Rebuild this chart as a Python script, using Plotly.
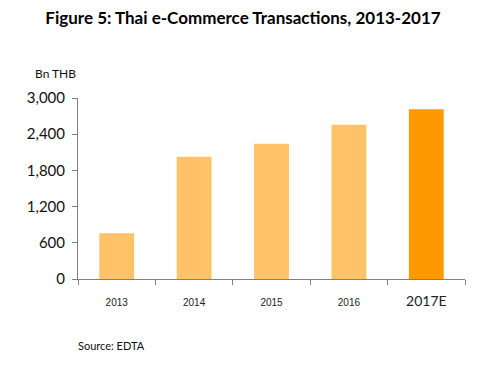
import plotly.graph_objects as go

years = ["2013", "2014", "2015", "2016", "2017E"]
values = [757, 2025, 2240, 2555, 2815]
colors = ["#FFC266", "#FFC266", "#FFC266", "#FFC266", "#FF9900"]
tick_vals = [0, 600, 1200, 1800, 2400, 3000]
tick_text = ["0", "600", "1,200", "1,800", "2,400", "3,000"]
x_text = ["2013", "2014", "2015", "2016",
          "<span style='font-family:Lato;font-size:14px'>2017E</span>"]

fig = go.Figure(go.Bar(x=years, y=values, marker=dict(color=colors, line=dict(width=0)),
                       width=0.45))

fig.update_layout(
    width=478, height=359,
    margin=dict(l=70, r=21, t=90, b=88),
    plot_bgcolor="white", paper_bgcolor="white",
    showlegend=False,
    bargap=0.55,
    title=dict(text="<b>Figure 5: Thai e-Commerce Transactions, 2013-2017</b>",
               x=(243 - 8 - 70) / 387, xanchor="center", y=1 - 10 / 359, yanchor="middle",
               xref="paper",
               font=dict(family="Lato", size=17, color="#000")),
)
fig.update_xaxes(
    tickmode="array", tickvals=years, ticktext=x_text,
    tickfont=dict(family="Liberation Sans", size=10, color="#222"),
    showline=True, linecolor="#808080", linewidth=1,
    ticks="outside", ticklen=5, tickcolor="#808080",
    tickson="boundaries", showgrid=False, ticklabelstandoff=14,
)
fig.update_yaxes(
    range=[0, 3000], tickmode="array", tickvals=tick_vals, ticktext=tick_text,
    tickfont=dict(family="Lato", size=15, color="#111"),
    showline=True, linecolor="#808080", linewidth=1,
    ticks="outside", ticklen=5, tickcolor="#808080",
    showgrid=False, zeroline=False, ticklabelstandoff=4,
)
fig.add_annotation(text="Bn THB", xref="paper", yref="paper", x=(47 - 70) / 387, y=1 + 25 / 181,
                   xanchor="center", yanchor="middle", showarrow=False,
                   font=dict(family="Lato", size=12, color="#111"))
fig.add_annotation(text="Source: EDTA", xref="paper", yref="paper", x=-0.005, y=-66 / 181,
                   xanchor="left", yanchor="middle", showarrow=False,
                   font=dict(family="Lato", size=11, color="#111"))

fig.write_html("out.html")
